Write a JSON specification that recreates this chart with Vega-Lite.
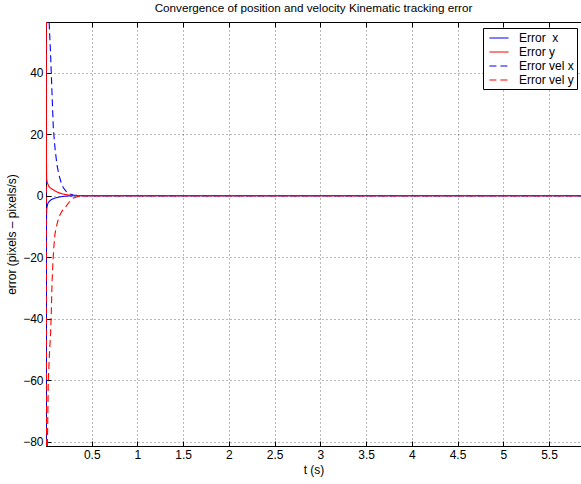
{
  "$schema": "https://vega.github.io/schema/vega-lite/v6.json",
  "width": 535,
  "height": 424,
  "autosize": "none",
  "padding": {"left": 46, "top": 22, "right": 0, "bottom": 38},
  "background": "white",
  "title": {
    "text": "Convergence of position and velocity Kinematic tracking error",
    "fontSize": 11.7,
    "fontWeight": "normal",
    "font": "Liberation Sans",
    "color": "black",
    "anchor": "middle",
    "frame": "group",
    "offset": 7
  },
  "config": {
    "font": "Liberation Sans",
    "view": {"stroke": "black", "strokeWidth": 1},
    "axis": {
      "domainColor": "black",
      "domainWidth": 1,
      "tickColor": "black",
      "tickSize": -5,
      "labelPadding": 8,
      "labelFontSize": 12,
      "labelColor": "black",
      "labelFont": "Liberation Sans",
      "titleFont": "Liberation Sans",
      "titleFontSize": 12,
      "titleFontWeight": "normal",
      "titleColor": "black",
      "gridColor": "#444444",
      "gridDash": [1, 3],
      "gridWidth": 1,
      "gridOpacity": 0.75
    },
    "legend": {
      "title": null,
      "orient": "none",
      "legendX": 437,
      "legendY": 6,
      "fillColor": "white",
      "strokeColor": "black",
      "padding": 3,
      "rowPadding": 1,
      "symbolType": "M-0.6,0H2.6",
      "symbolSize": 144,
      "symbolStrokeWidth": 1.1,
      "labelOffset": 19,
      "labelFontSize": 12,
      "labelColor": "black",
      "labelFont": "Liberation Sans"
    }
  },
  "data": {
    "values": [
      {"t": 0, "series": "Error  x", "v": -120},
      {"t": 0.002, "series": "Error  x", "v": -40},
      {"t": 0.004, "series": "Error  x", "v": -12},
      {"t": 0.007, "series": "Error  x", "v": -4.5},
      {"t": 0.015, "series": "Error  x", "v": -3},
      {"t": 0.025, "series": "Error  x", "v": -2.2},
      {"t": 0.04, "series": "Error  x", "v": -1.7},
      {"t": 0.062, "series": "Error  x", "v": -1.2},
      {"t": 0.09, "series": "Error  x", "v": -0.85},
      {"t": 0.12, "series": "Error  x", "v": -0.6},
      {"t": 0.16, "series": "Error  x", "v": -0.35},
      {"t": 0.2, "series": "Error  x", "v": -0.18},
      {"t": 0.26, "series": "Error  x", "v": -0.05},
      {"t": 0.35, "series": "Error  x", "v": 0},
      {"t": 5.85, "series": "Error  x", "v": 0},

      {"t": 0, "series": "Error vel x", "v": -200},
      {"t": 0.006, "series": "Error vel x", "v": 150},
      {"t": 0.015, "series": "Error vel x", "v": 100},
      {"t": 0.025, "series": "Error vel x", "v": 72},
      {"t": 0.035, "series": "Error vel x", "v": 56},
      {"t": 0.05, "series": "Error vel x", "v": 46},
      {"t": 0.06, "series": "Error vel x", "v": 38},
      {"t": 0.07, "series": "Error vel x", "v": 30},
      {"t": 0.08, "series": "Error vel x", "v": 22},
      {"t": 0.1, "series": "Error vel x", "v": 15},
      {"t": 0.12, "series": "Error vel x", "v": 10},
      {"t": 0.14, "series": "Error vel x", "v": 7},
      {"t": 0.165, "series": "Error vel x", "v": 4.3},
      {"t": 0.19, "series": "Error vel x", "v": 2.6},
      {"t": 0.22, "series": "Error vel x", "v": 1.4},
      {"t": 0.26, "series": "Error vel x", "v": 0.6},
      {"t": 0.3, "series": "Error vel x", "v": 0.25},
      {"t": 0.35, "series": "Error vel x", "v": 0.08},
      {"t": 0.45, "series": "Error vel x", "v": 0},
      {"t": 5.85, "series": "Error vel x", "v": 0},

      {"t": 0, "series": "Error vel y", "v": 200},
      {"t": 0.006, "series": "Error vel y", "v": -150},
      {"t": 0.012, "series": "Error vel y", "v": -100},
      {"t": 0.016, "series": "Error vel y", "v": -80},
      {"t": 0.025, "series": "Error vel y", "v": -60},
      {"t": 0.04, "series": "Error vel y", "v": -50},
      {"t": 0.05, "series": "Error vel y", "v": -45},
      {"t": 0.058, "series": "Error vel y", "v": -38},
      {"t": 0.066, "series": "Error vel y", "v": -28},
      {"t": 0.077, "series": "Error vel y", "v": -21},
      {"t": 0.085, "series": "Error vel y", "v": -17},
      {"t": 0.098, "series": "Error vel y", "v": -12.5},
      {"t": 0.11, "series": "Error vel y", "v": -10.5},
      {"t": 0.14, "series": "Error vel y", "v": -7},
      {"t": 0.175, "series": "Error vel y", "v": -5},
      {"t": 0.21, "series": "Error vel y", "v": -3.8},
      {"t": 0.25, "series": "Error vel y", "v": -2.2},
      {"t": 0.295, "series": "Error vel y", "v": -0.8},
      {"t": 0.35, "series": "Error vel y", "v": -0.25},
      {"t": 0.45, "series": "Error vel y", "v": 0},
      {"t": 5.85, "series": "Error vel y", "v": 0},

      {"t": 0, "series": "Error y", "v": 120},
      {"t": 0.002, "series": "Error y", "v": 40},
      {"t": 0.004, "series": "Error y", "v": 15},
      {"t": 0.007, "series": "Error y", "v": 5.3},
      {"t": 0.015, "series": "Error y", "v": 4.2},
      {"t": 0.03, "series": "Error y", "v": 3.1},
      {"t": 0.05, "series": "Error y", "v": 2.5},
      {"t": 0.08, "series": "Error y", "v": 1.9},
      {"t": 0.11, "series": "Error y", "v": 1.35},
      {"t": 0.15, "series": "Error y", "v": 0.85},
      {"t": 0.2, "series": "Error y", "v": 0.45},
      {"t": 0.25, "series": "Error y", "v": 0.2},
      {"t": 0.3, "series": "Error y", "v": 0.07},
      {"t": 0.4, "series": "Error y", "v": 0},
      {"t": 5.85, "series": "Error y", "v": 0}
    ]
  },
  "layer": [
    {
      "mark": {"type": "line", "clip": true, "strokeWidth": 1.1},
      "encoding": {
        "x": {
          "field": "t",
          "type": "quantitative",
          "scale": {"domain": [0, 5.85], "nice": false, "zero": false},
          "axis": {
            "orient": "bottom",
            "title": "t (s)",
            "titlePadding": 4,
            "values": [0.5, 1, 1.5, 2, 2.5, 3, 3.5, 4, 4.5, 5, 5.5],
            "format": "~g",
            "grid": true
          }
        },
        "y": {
          "field": "v",
          "type": "quantitative",
          "scale": {"domain": [-81.4, 56.5], "nice": false, "zero": false},
          "axis": {
            "title": "error (pixels – pixels/s)",
            "titlePadding": 4,
            "values": [-80, -60, -40, -20, 0, 20, 40],
            "grid": true
          }
        },
        "color": {
          "field": "series",
          "type": "nominal",
          "sort": null,
          "scale": {
            "domain": ["Error  x", "Error y", "Error vel x", "Error vel y"],
            "range": ["#0000ff", "#ff0000", "#0000ff", "#ff0000"]
          },
          "legend": {
            "labelExpr": "replace(datum.label, '  ', '\u00a0 ')"
          }
        },
        "strokeDash": {
          "field": "series",
          "type": "nominal",
          "sort": null,
          "scale": {
            "domain": ["Error  x", "Error y", "Error vel x", "Error vel y"],
            "range": [[1, 0], [1, 0], [7, 4], [7, 4]]
          },
          "legend": {
            "labelExpr": "replace(datum.label, '  ', '\u00a0 ')"
          }
        }
      }
    },
    {
      "mark": {"type": "line", "opacity": 0, "clip": true},
      "encoding": {
        "x": {
          "field": "t",
          "type": "quantitative",
          "axis": {
            "orient": "top",
            "title": null,
            "labels": false,
            "grid": false,
            "values": [0.5, 1, 1.5, 2, 2.5, 3, 3.5, 4, 4.5, 5, 5.5]
          }
        },
        "y": {"field": "v", "type": "quantitative"}
      }
    }
  ],
  "resolve": {"axis": {"x": "independent"}}
}
